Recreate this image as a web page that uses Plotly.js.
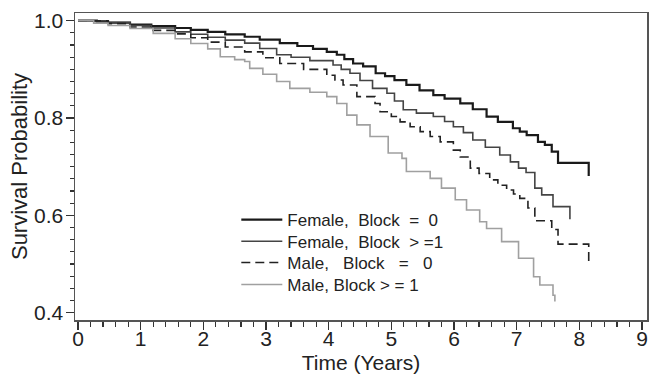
<!DOCTYPE html>
<html>
<head>
<meta charset="utf-8">
<script src="https://cdn.plot.ly/plotly-3.0.1.min.js"></script>
<style>
html,body{margin:0;padding:0;background:#fff;}
#chart{width:649px;height:374px;}
</style>
</head>
<body>
<div id="chart"></div>
<script>
// Series names
const seriesNames = [
  "Female,\u00a0 Block\u00a0 =\u00a0 0",
  "Female,\u00a0 Block\u00a0 >\u00a0=1",
  "Male,\u00a0\u00a0 Block\u00a0\u00a0 =\u00a0\u00a0 0",
  "Male, Block > = 1"
];

// Female, Block = 0
const femB0_t = [0, 0.3, 0.48, 0.83, 1.17, 1.55, 1.8, 2.07, 2.35, 2.66, 2.9, 3.22, 3.5, 3.75, 3.97, 4.13, 4.25, 4.39, 4.55, 4.75, 4.9, 5.05, 5.24, 5.45, 5.67, 5.85, 6.1, 6.3, 6.52, 6.7, 6.94, 7.05, 7.16, 7.34, 7.45, 7.56, 7.66, 8.15];
const femB0_s = [1.0, 0.998, 0.996, 0.992, 0.989, 0.985, 0.981, 0.977, 0.972, 0.967, 0.961, 0.954, 0.948, 0.942, 0.936, 0.93, 0.921, 0.912, 0.906, 0.892, 0.886, 0.878, 0.868, 0.857, 0.847, 0.84, 0.83, 0.818, 0.803, 0.792, 0.779, 0.772, 0.765, 0.751, 0.745, 0.731, 0.708, 0.681];

// Female, Block >= 1
const femB1_t = [0, 0.48, 0.83, 1.17, 1.55, 1.8, 2.07, 2.35, 2.66, 2.9, 3.17, 3.4, 3.7, 4.07, 4.2, 4.34, 4.5, 4.7, 4.93, 5.05, 5.19, 5.4, 5.67, 5.85, 5.99, 6.15, 6.3, 6.5, 6.73, 6.9, 7.03, 7.15, 7.29, 7.4, 7.58, 7.85];
const femB1_s = [1.0, 0.996, 0.99, 0.985, 0.977, 0.972, 0.966, 0.96, 0.954, 0.943, 0.93, 0.925, 0.918, 0.909, 0.9, 0.892, 0.877, 0.861, 0.851, 0.835, 0.817, 0.81, 0.803, 0.793, 0.782, 0.77, 0.755, 0.74, 0.724, 0.71, 0.697, 0.688, 0.656, 0.642, 0.618, 0.592];

// Male, Block = 0
const maleB0_t = [0, 0.48, 0.83, 1.17, 1.55, 1.8, 2.07, 2.35, 2.66, 2.95, 3.22, 3.6, 3.97, 4.1, 4.23, 4.45, 4.74, 4.82, 5.0, 5.14, 5.3, 5.46, 5.62, 5.78, 5.99, 6.1, 6.26, 6.4, 6.57, 6.7, 6.84, 6.95, 7.05, 7.18, 7.29, 7.56, 7.66, 8.15];
const maleB0_s = [1.0, 0.994, 0.987, 0.98, 0.973, 0.965, 0.956, 0.946, 0.936, 0.924, 0.912, 0.9, 0.888, 0.878, 0.868, 0.844, 0.83, 0.813, 0.803, 0.792, 0.782, 0.772, 0.762, 0.751, 0.734, 0.72, 0.697, 0.686, 0.673, 0.662, 0.652, 0.644, 0.635, 0.615, 0.589, 0.571, 0.541, 0.505];

// Male, Block >= 1
const maleB1_t = [0, 0.25, 0.48, 0.83, 1.2, 1.55, 1.8, 2.07, 2.27, 2.5, 2.66, 2.74, 2.95, 3.17, 3.38, 3.7, 3.97, 4.13, 4.29, 4.45, 4.66, 4.95, 5.17, 5.24, 5.62, 5.8, 6.02, 6.2, 6.41, 6.52, 6.76, 7.03, 7.27, 7.37, 7.58, 7.61];
const maleB1_s = [1.0, 0.995, 0.99, 0.984, 0.974, 0.963, 0.953, 0.942, 0.926, 0.92, 0.916, 0.902, 0.89, 0.875, 0.861, 0.853, 0.844, 0.83, 0.806, 0.786, 0.762, 0.728, 0.717, 0.69, 0.676, 0.656, 0.632, 0.611, 0.587, 0.573, 0.546, 0.512, 0.474, 0.457, 0.436, 0.423];

const xTickVals = [0,1,2,3,4,5,6,7,8,9];
const yTickVals = [0.4,0.6,0.8,1.0];

const traces = [
  {x: femB0_t, y: femB0_s, name: seriesNames[0], mode: 'lines', line: {shape: 'hv', color: '#1a1a1a', width: 2.2}, legend: 'legend'},
  {x: femB1_t, y: femB1_s, name: seriesNames[1], mode: 'lines', line: {shape: 'hv', color: '#444444', width: 1.6}, legend: 'legend2'},
  {x: maleB0_t, y: maleB0_s, name: seriesNames[2], mode: 'lines', line: {shape: 'hv', color: '#222222', width: 1.6, dash: '9px,5px'}, legend: 'legend3'},
  {x: maleB1_t, y: maleB1_s, name: seriesNames[3], mode: 'lines', line: {shape: 'hv', color: '#a0a0a0', width: 1.6}, legend: 'legend4'}
];

const legFont = {family: 'Liberation Sans, Arial, sans-serif', size: 17, color: '#222'};
function leg(y) {
  return {x: 0.282, y: y, xanchor: 'left', yanchor: 'middle', bgcolor: 'rgba(0,0,0,0)', font: legFont, itemwidth: 41};
}

const layout = {
  width: 649, height: 374,
  margin: {l: 75, r: 2, t: 13, b: 54},
  paper_bgcolor: '#fff', plot_bgcolor: '#fff',
  font: {family: 'Liberation Sans, Arial, sans-serif', color: '#222'},
  showlegend: true,
  legend: leg(0.3257),
  legend2: leg(0.255),
  legend3: leg(0.1857),
  legend4: leg(0.114),
  xaxis: {
    range: [-0.048, 9.08],
    tickvals: xTickVals,
    ticktext: xTickVals.map(String),
    ticks: 'outside', ticklen: 8, tickwidth: 1.3, tickcolor: '#333',
    ticklabelstandoff: -9,
    minor: {dtick: 0.2, tick0: 0, ticks: 'outside', ticklen: 5, tickwidth: 1.2, tickcolor: '#333', showgrid: false},
    showline: true, linecolor: '#555', linewidth: 1.5, mirror: true,
    showgrid: false, zeroline: false,
    tickfont: {size: 21, color: '#222'},
    title: {text: 'Time (Years)', font: {size: 21, color: '#222'}, standoff: 14}
  },
  yaxis: {
    range: [0.385, 1.0158],
    tickvals: yTickVals,
    ticktext: yTickVals.map(v => v.toFixed(1)),
    ticks: 'outside', ticklen: 8, tickwidth: 1.3, tickcolor: '#333',
    ticklabelstandoff: -2,
    minor: {dtick: 0.025, tick0: 0.4, ticks: 'outside', ticklen: 4, tickwidth: 1.2, tickcolor: '#333', showgrid: false},
    showline: true, linecolor: '#555', linewidth: 1.5, mirror: true,
    showgrid: false, zeroline: false,
    tickfont: {size: 21, color: '#222'},
    title: {text: 'Survival Probability', font: {size: 22, color: '#222'}, standoff: 0}
  }
};

Plotly.newPlot('chart', traces, layout, {displayModeBar: false, staticPlot: true});
</script>
</body>
</html>
